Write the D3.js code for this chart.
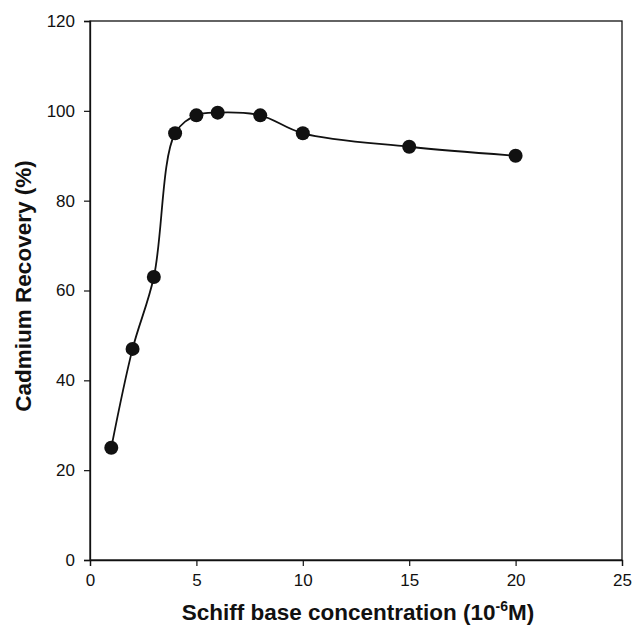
<!DOCTYPE html>
<html>
<head>
<meta charset="utf-8" />
<title>cadmium recovery</title>
<script src="https://cdn.jsdelivr.net/npm/d3@7"></script>
<style>
  body { margin: 0; background: #fff; }
  text { font-family: "Liberation Sans", Arial, sans-serif; fill: #111; }
</style>
</head>
<body>
<svg width="632" height="627"></svg>
<script>
  // data
  var conc = [1, 2, 3, 4, 5, 6, 8, 10, 15, 20];
  var recovery = [25, 47, 63, 95, 99, 99.6, 99, 95, 92, 90];
  var xTicks = [0, 5, 10, 15, 20, 25];
  var yTicks = [0, 20, 40, 60, 80, 100, 120];

  var svg = d3.select("svg");
  var marge = {left: 90, top: 21, right: 632 - 622, bottom: 627 - 560};
  var w = 632 - marge.left - marge.right;
  var h = 627 - marge.top - marge.bottom;

  var x = d3.scaleLinear().domain([0, 25]).range([0, w]);
  var y = d3.scaleLinear().domain([0, 120]).range([h, 0]);

  var g = svg.append("g").attr("transform", "translate(" + marge.left + "," + marge.top + ")");

  // frame
  g.append("rect").attr("width", w).attr("height", h)
    .attr("fill", "none").attr("stroke", "#111").attr("stroke-width", 1.3);

  var xAxis = g.append("g").attr("transform", "translate(0," + h + ")")
    .call(d3.axisBottom(x).tickValues(xTicks).tickSize(6).tickPadding(8).tickFormat(d3.format("d")));
  var yAxis = g.append("g")
    .call(d3.axisLeft(y).tickValues(yTicks).tickSize(6).tickPadding(9).tickFormat(d3.format("d")));
  [xAxis, yAxis].forEach(function (a) {
    a.select(".domain").attr("stroke", "#111").attr("stroke-width", 1.3);
    a.selectAll(".tick line").attr("stroke", "#111").attr("stroke-width", 1.2);
    a.selectAll(".tick text").attr("font-size", 17).attr("fill", "#111")
      .attr("font-family", "Liberation Sans, Arial, sans-serif");
  });

  var pts = conc.map(function (c, i) { return [c, recovery[i]]; });

  var line = d3.line()
    .x(function (d) { return x(d[0]); })
    .y(function (d) { return y(d[1]); })
    .curve(d3.curveCatmullRom.alpha(0.5));

  g.append("path").datum(pts).attr("d", line)
    .attr("fill", "none").attr("stroke", "#111").attr("stroke-width", 1.8);

  g.selectAll(".dot").data(pts).enter().append("circle")
    .attr("cx", function (d) { return x(d[0]); })
    .attr("cy", function (d) { return y(d[1]); })
    .attr("r", 7).attr("fill", "#111");

  // axis titles
  var xt = svg.append("text")
    .attr("x", 358).attr("y", 620)
    .attr("text-anchor", "middle").attr("font-size", 22.5).attr("font-weight", "bold");
  xt.append("tspan").text("Schiff base concentration (10");
  xt.append("tspan").attr("dy", -9).attr("font-size", 14).text("-6");
  xt.append("tspan").attr("dy", 9).text("M)");

  svg.append("text")
    .attr("transform", "translate(31," + 286 + ") rotate(-90)")
    .attr("text-anchor", "middle").attr("font-size", 22.5).attr("font-weight", "bold")
    .text("Cadmium Recovery (%)");
</script>
</body>
</html>
